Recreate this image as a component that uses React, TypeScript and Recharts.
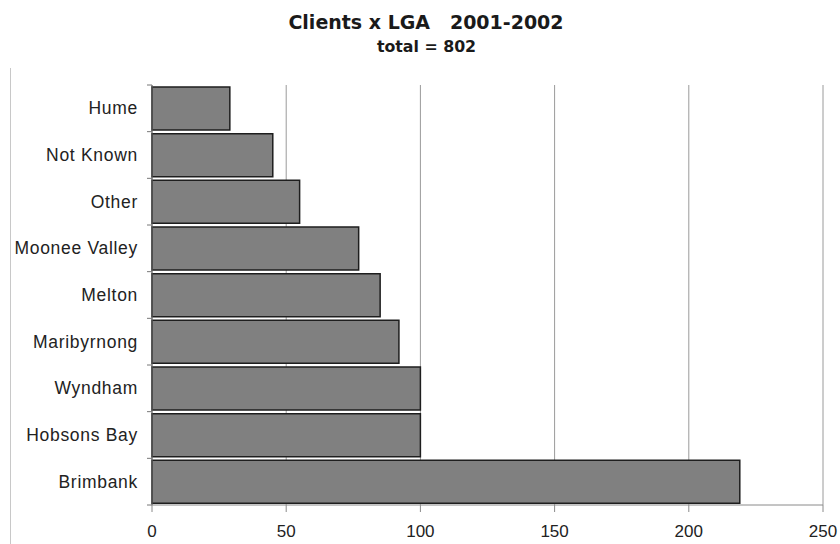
import React from "react";
import { Bar, BarChart, CartesianGrid, XAxis, YAxis } from "recharts";

const regions = [
  "Hume",
  "Not Known",
  "Other",
  "Moonee Valley",
  "Melton",
  "Maribyrnong",
  "Wyndham",
  "Hobsons Bay",
  "Brimbank",
];
const clients = [29, 45, 55, 77, 85, 92, 100, 100, 219];
const xTicks = [0, 50, 100, 150, 200, 250];

const data = regions.map((lga, i) => ({ lga, clients: clients[i] }));

const labelFont = "'Liberation Sans', Arial, sans-serif";
const titleFont = "'DejaVu Sans', Verdana, sans-serif";

// category label centred in its band, with the small tick marks sitting on band boundaries
function LgaTick(props: any) {
  const { x, y, payload, index } = props;
  const half = payload?.offset ?? 23.3;
  const ax = x + 14;
  return (
    <g>
      <line x1={ax - 5} x2={ax} y1={y - half} y2={y - half} stroke="#777" />
      {index === regions.length - 1 && (
        <line x1={ax - 5} x2={ax} y1={y + half} y2={y + half} stroke="#777" />
      )}
      <text
        x={x}
        y={y}
        dy={6}
        textAnchor="end"
        fill="#222"
        style={{ fontFamily: labelFont, fontSize: 17.5, letterSpacing: 0.7 }}
      >
        {payload.value}
      </text>
    </g>
  );
}

export default function App() {
  return (
    <div
      style={{
        position: "fixed",
        left: 0,
        top: 0,
        width: 840,
        height: 544,
        overflow: "hidden",
        background: "#fff",
      }}
    >
      <div
        style={{
          position: "absolute",
          left: 10,
          top: 68,
          width: 0,
          height: 476,
          borderLeft: "1px solid #c8c8c8",
        }}
      />
      <div
        style={{
          position: "absolute",
          left: 12,
          width: 828,
          top: 11,
          textAlign: "center",
          fontFamily: titleFont,
          fontWeight: "bold",
          fontSize: 19,
          color: "#1a1a1a",
          whiteSpace: "pre",
        }}
      >
        {"Clients x LGA   2001-2002"}
      </div>
      <div
        style={{
          position: "absolute",
          left: 13,
          width: 827,
          top: 37,
          textAlign: "center",
          fontFamily: titleFont,
          fontWeight: "bold",
          fontSize: 15.8,
          color: "#1a1a1a",
        }}
      >
        total = 802
      </div>
      <div style={{ position: "absolute", left: 0, top: 0 }}>
        <BarChart
          width={840}
          height={544}
          data={data}
          layout="vertical"
          margin={{ top: 85, right: 17, bottom: 9, left: 10 }}
          barCategoryGap={2}
        >
          <CartesianGrid horizontal={false} stroke="#9a9a9a" />
          <XAxis
            type="number"
            domain={[0, 250]}
            ticks={xTicks}
            height={30}
            stroke="#8a8a8a"
            tickSize={7}
            tickMargin={13}
            tick={{ fill: "#222", fontFamily: labelFont, fontSize: 17 }}
          />
          <YAxis
            type="category"
            dataKey="lga"
            width={142}
            stroke="#666"
            tickLine={false}
            tickSize={0}
            tickMargin={14}
            tick={<LgaTick />}
            interval={0}
          />
          <Bar
            dataKey="clients"
            fill="#808080"
            stroke="#1e1e1e"
            strokeWidth={1.5}
            isAnimationActive={false}
          />
        </BarChart>
      </div>
    </div>
  );
}
